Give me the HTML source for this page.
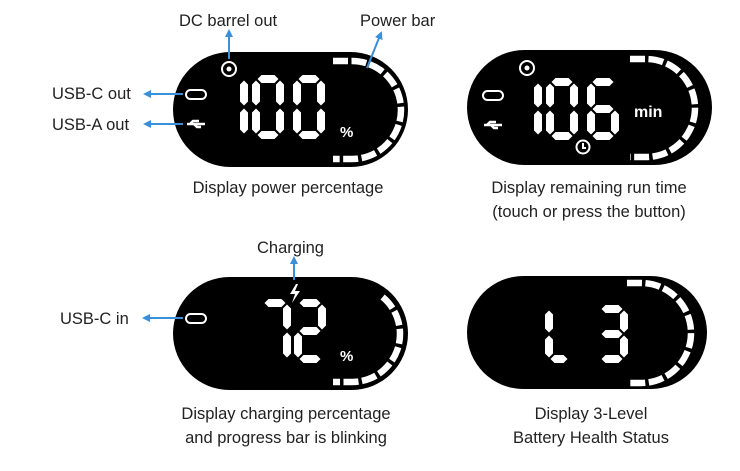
<!DOCTYPE html>
<html><head><meta charset="utf-8"><style>
html,body{margin:0;padding:0;background:#fff;width:740px;height:471px;overflow:hidden}
svg{display:block}
text{font-family:"Liberation Sans","DejaVu Sans",sans-serif;fill:#222}
</style></head><body>
<svg id="s" width="740" height="471" viewBox="0 0 740 471" xmlns="http://www.w3.org/2000/svg">
<defs>
<marker id="ar" markerWidth="8" markerHeight="8" refX="6" refY="4" orient="auto" markerUnits="userSpaceOnUse">
<path d="M0,0 L8,4 L0,8 z" fill="#3b8fd8"/></marker>
</defs>
<rect x="173" y="52" width="235" height="115" rx="57.5" fill="#000"/>
<rect x="467" y="50" width="245" height="115" rx="57.5" fill="#000"/>
<rect x="173" y="277" width="235" height="113" rx="56.5" fill="#000"/>
<rect x="467" y="276" width="240" height="113" rx="56.5" fill="#000"/>
<g id="g"></g>
<g fill="none" stroke="#fff" stroke-width="2">
<circle cx="229" cy="69" r="7"/>
<rect x="186" y="90" width="20" height="9" rx="4.5"/>
<circle cx="527" cy="68" r="7"/>
<rect x="483" y="91" width="20" height="9" rx="4.5"/>
<circle cx="583" cy="147" r="6.5"/>
<path d="M583,143 v5 h3"/>
<rect x="186" y="314" width="20" height="9" rx="4.5"/>
</g>
<circle cx="229" cy="69" r="2.5" fill="#fff"/>
<circle cx="527" cy="68" r="2.5" fill="#fff"/>
<g fill="#fff">
<path d="M187,124 h18 M190,124 l3,-3 h6 M194,124 l3,3 h4" stroke="#fff" stroke-width="2.5" fill="none"/>
<path d="M484,125 h18 M487,125 l3,-3 h6 M491,125 l3,3 h4" stroke="#fff" stroke-width="2.5" fill="none"/>
<path d="M296,284 l-6,10 h5 l-3,9 l8,-12 h-5 l3,-7 z"/>
</g>
<text x="340" y="137" font-size="15" font-weight="bold" style="fill:#fff">%</text>
<text x="340" y="361" font-size="15" font-weight="bold" style="fill:#fff">%</text>
<text x="634" y="117" font-size="16" font-weight="bold" style="fill:#fff">min</text>
<g stroke="#3b8fd8" stroke-width="2" fill="none" marker-end="url(#ar)">
<line x1="229" y1="59" x2="229" y2="31"/>
<line x1="367" y1="68" x2="381" y2="33"/>
<line x1="183" y1="94" x2="145" y2="94"/>
<line x1="183" y1="124" x2="145" y2="124"/>
<line x1="183" y1="318" x2="144" y2="318"/>
<line x1="294" y1="280" x2="294" y2="258"/>
</g>
<g font-size="16.5">
<text x="179" y="26">DC barrel out</text>
<text x="360" y="26">Power bar</text>
<text x="52" y="99">USB-C out</text>
<text x="52" y="130">USB-A out</text>
<text x="60" y="324">USB-C in</text>
<text x="257" y="253">Charging</text>
<text x="288" y="193" text-anchor="middle">Display power percentage</text>
<text x="589" y="193" text-anchor="middle">Display remaining run time</text>
<text x="589" y="217" text-anchor="middle">(touch or press the button)</text>
<text x="286" y="419" text-anchor="middle">Display charging percentage</text>
<text x="286" y="443" text-anchor="middle">and progress bar is blinking</text>
<text x="591" y="419" text-anchor="middle">Display 3-Level</text>
<text x="591" y="443" text-anchor="middle">Battery Health Status</text>
</g>
</svg>
<script>
var g=document.getElementById('g'),ns='http://www.w3.org/2000/svg';
function poly(pts){var p=document.createElementNS(ns,'polygon');p.setAttribute('points',pts.map(function(q){return q[0].toFixed(1)+','+q[1].toFixed(1)}).join(' '));p.setAttribute('fill','#fff');g.appendChild(p);}
var M={'0':'abcdef','1':'bc','2':'abged','3':'abgcd','6':'afgedc','7':'abc','L':'efd'};
function dig(ch,x,y,w,h){var t=8,k=1.5,hh=h/2,s=M[ch];
 function H(yy){return [[x+k+t/2,yy],[x+k+t,yy-t/2],[x+w-k-t,yy-t/2],[x+w-k-t/2,yy],[x+w-k-t,yy+t/2],[x+k+t,yy+t/2]];}
 function V(xx,y0,y1){return [[xx,y0+k],[xx+t/2,y0+k+t/2],[xx+t/2,y1-k-t/2],[xx,y1-k],[xx-t/2,y1-k-t/2],[xx-t/2,y0+k+t/2]];}
 var L=x+t/2,R=x+w-t/2;
 var seg={a:H(y+t/2),g:H(y+hh),d:H(y+h-t/2),f:V(L,y+t/2,y+hh),b:V(R,y+t/2,y+hh),e:V(L,y+hh,y+h-t/2),c:V(R,y+hh,y+h-t/2)};
 for(var i=0;i<s.length;i++)poly(seg[s[i]]);}
function num(s,x,y,h,gap){var w=32;h=h||64;gap=gap||9;for(var i=0;i<s.length;i++){if(s[i]=='1'){dig('1',x-w+12,y,w,h);x+=16;}else{dig(s[i],x,y,w,h);x+=w+gap;}}}
num('100',252-16,75);
num('106',530,78,62);
num('72',259,299,64,3);
dig('L',545,305,28,58);
dig('3',596,305,32,58);
function bar(cx,cy,r,x0){var p=document.createElementNS(ns,'path');
 var d='M'+x0+','+(cy-r)+' L'+cx+','+(cy-r)+' A'+r+','+r+' 0 0 1 '+cx+','+(cy+r)+' L'+x0+','+(cy+r);
 p.setAttribute('d',d);p.setAttribute('fill','none');p.setAttribute('stroke','#fff');p.setAttribute('stroke-width','6.5');
 p.setAttribute('stroke-dasharray','15 3.5');g.appendChild(p);}
bar(352,110,49,333);
bar(646,108,49,630);
bar(641,333,50,627);
(function(){var cx=352,cy=334,r=48;var p=document.createElementNS(ns,'path');
var a0=-Math.PI*0.28;var sx=cx+r*Math.cos(a0),sy=cy+r*Math.sin(a0);
p.setAttribute('d','M'+sx+','+sy+' A'+r+','+r+' 0 0 1 '+cx+','+(cy+r)+' L333,'+(cy+r));
p.setAttribute('fill','none');p.setAttribute('stroke','#fff');p.setAttribute('stroke-width','6.5');p.setAttribute('stroke-dasharray','15 3.5');g.appendChild(p);})();
</script>
</body></html>
